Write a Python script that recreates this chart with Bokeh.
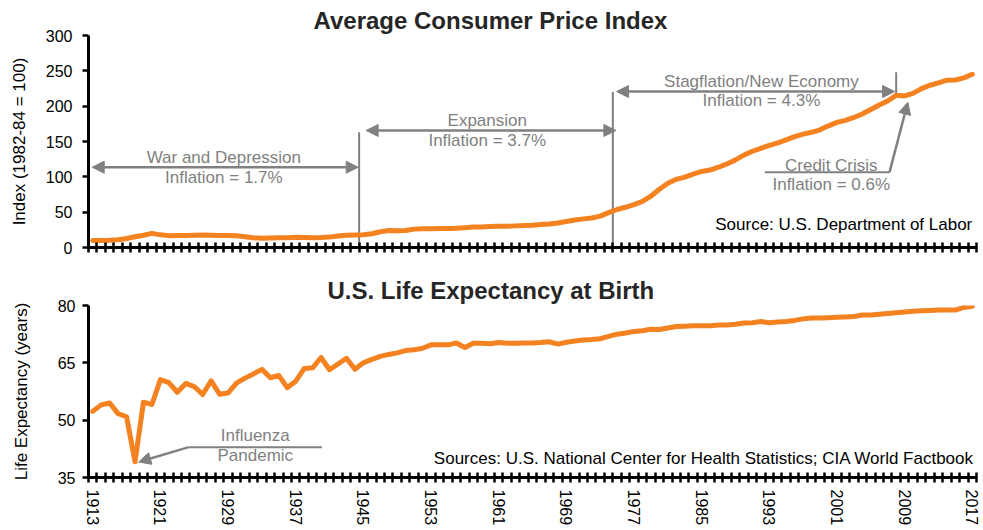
from bokeh.plotting import figure
from bokeh.layouts import column
from bokeh.models import Range1d, FixedTicker, Label, Arrow, NormalHead
from bokeh.embed import file_html
from bokeh.resources import INLINE

years = list(range(1913, 2018))
cpi = [9.9, 10.0, 10.1, 10.9, 12.8, 15.1, 17.3, 20.0, 17.9, 16.8,
       17.1, 17.1, 17.5, 17.7, 17.4, 17.1, 17.1, 16.7, 15.2, 13.7,
       13.0, 13.4, 13.7, 13.9, 14.4, 14.1, 13.9, 14.0, 14.7, 16.3,
       17.3, 17.6, 18.0, 19.5, 22.3, 24.1, 23.8, 24.1, 26.0, 26.5,
       26.7, 26.9, 26.8, 27.2, 28.1, 28.9, 29.1, 29.6, 29.9, 30.2,
       30.6, 31.0, 31.5, 32.4, 33.4, 34.8, 36.7, 38.8, 40.5, 41.8,
       44.4, 49.3, 53.8, 56.9, 60.6, 65.2, 72.6, 82.4, 90.9, 96.5,
       99.6, 103.9, 107.6, 109.6, 113.6, 118.3, 124.0, 130.7, 136.2, 140.3,
       144.5, 148.2, 152.4, 156.9, 160.5, 163.0, 166.6, 172.2, 177.1, 179.9,
       184.0, 188.9, 195.3, 201.6, 207.3, 215.3, 214.5, 218.1, 224.9, 229.6,
       233.0, 236.7, 237.0, 240.0, 245.1]
life = [52.3, 54.0, 54.5, 51.7, 50.9, 39.1, 54.7, 54.1, 60.6, 59.8,
        57.3, 59.6, 58.8, 56.7, 60.3, 56.8, 57.1, 59.7, 61.0, 62.1,
        63.3, 61.1, 61.7, 58.5, 60.2, 63.5, 63.7, 66.4, 63.2, 64.7,
        66.2, 63.3, 65.0, 65.9, 66.7, 67.2, 67.6, 68.2, 68.4, 68.8,
        69.7, 69.7, 69.7, 70.2, 69.0, 70.1, 70.1, 70.0, 70.3, 70.1,
        70.1, 70.2, 70.2, 70.3, 70.5, 69.9, 70.4, 70.7, 71.0, 71.1,
        71.3, 71.9, 72.5, 72.8, 73.2, 73.4, 73.8, 73.7, 74.1, 74.5,
        74.6, 74.7, 74.7, 74.7, 74.9, 74.9, 75.1, 75.4, 75.5, 75.8,
        75.5, 75.7, 75.8, 76.1, 76.5, 76.7, 76.7, 76.8, 76.9, 77.0,
        77.1, 77.5, 77.5, 77.7, 77.9, 78.1, 78.3, 78.5, 78.6, 78.7,
        78.8, 78.8, 78.8, 79.5, 79.8]

label_years = list(range(1913, 2018, 8))
year_bounds = [1912.5 + k for k in range(106)]
cpi_ticks = [0, 50, 100, 150, 200, 250, 300]
life_ticks = [35, 50, 65, 80]

# annotation anchors (data units)
era_lines_x = [1944.5, 1974.5, 2008.0]
era_lines_top = [163, 220, 248]
era_lines_bottom = [0, 0, 215]
era_arrows = [(1912.94, 1944.39, 113.6), (1945.33, 1974.86, 165.6), (1974.94, 2007.82, 220.7)]
era_names = [("War and Depression", "Inflation = 1.7%", 1928.5, 126.9, 99.5),
             ("Expansion", "Inflation = 3.7%", 1959.65, 179.7, 151.4),
             ("Stagflation/New Economy", "Inflation = 4.3%", 1992.07, 234.9, 208.0)]

FONT = "Liberation Sans"
ORANGE = "#F58220"
GRAY = "#808080"
ANN_TEXT = "#7F7F7F"

def base_fig(height, border_top, border_bottom, yr, title, title_offset):
    p = figure(width=983, height=height, output_backend="svg", toolbar_location=None,
               x_range=Range1d(1912.5, 2017.5), y_range=yr,
               min_border_left=88, min_border_right=7,
               min_border_top=border_top, min_border_bottom=border_bottom,
               title=title)
    p.title.align = "left"
    p.title.offset = title_offset
    p.title.text_font = FONT
    p.title.text_font_size = "24px"
    p.title.text_font_style = "bold"
    p.title.text_color = "#262626"
    p.title.standoff = 4
    p.outline_line_color = None
    p.xgrid.visible = False
    p.ygrid.visible = False
    p.background_fill_color = "white"
    p.border_fill_color = "white"
    for ax in (p.xaxis[0], p.yaxis[0]):
        ax.axis_line_color = "black"
        ax.axis_line_width = 3
        ax.major_label_text_font = FONT
        ax.major_label_text_color = "black"
        ax.axis_label_text_font = FONT
        ax.axis_label_text_font_style = "normal"
        ax.axis_label_text_color = "black"
    xa = p.xaxis[0]
    xa.major_tick_in = 0
    xa.major_tick_out = 0
    xa.minor_tick_in = 5
    xa.minor_tick_out = 5
    xa.minor_tick_line_width = 2.5
    xa.minor_tick_line_color = "black"
    ya = p.yaxis[0]
    ya.major_tick_in = 0
    ya.major_tick_out = 6
    ya.major_tick_line_width = 2.5
    ya.major_tick_line_color = "black"
    ya.minor_tick_line_color = None
    ya.major_label_text_font_size = "16px"
    ya.axis_label_text_font_size = "17px"
    return p

def txt(p, x, y, s, size="17px", color=ANN_TEXT, align="center"):
    p.add_layout(Label(x=x, y=y, text=s, text_font=FONT, text_font_size=size,
                       text_color=color, text_align=align, text_baseline="middle"))

# ---------------- top chart ----------------
p1 = base_fig(265, 35, 18, Range1d(0, 300), "Average Consumer Price Index", 225)
p1.xaxis[0].ticker = FixedTicker(ticks=[], minor_ticks=year_bounds)
p1.xaxis[0].major_label_text_font_size = "0px"
p1.yaxis[0].ticker = FixedTicker(ticks=cpi_ticks)
p1.yaxis[0].major_label_standoff = 10
p1.yaxis[0].axis_label = "Index (1982-84 = 100)"
p1.yaxis[0].axis_label_standoff = 14

p1.segment(x0=era_lines_x, y0=era_lines_bottom, x1=era_lines_x, y1=era_lines_top,
           line_color=GRAY, line_width=2)
for x0, x1, yv in era_arrows:
    p1.add_layout(Arrow(x_start=x0, y_start=yv, x_end=x1, y_end=yv,
                        line_color=GRAY, line_width=2.5,
                        start=NormalHead(size=12, fill_color=GRAY, line_color=GRAY),
                        end=NormalHead(size=12, fill_color=GRAY, line_color=GRAY)))
for name, infl, xc, y1, y2 in era_names:
    txt(p1, xc, y1, name)
    txt(p1, xc, y2, infl)

# credit crisis callout
p1.segment(x0=[1992.46], y0=[106.6], x1=[2007.22], y1=[106.6], line_color=GRAY, line_width=2)
p1.add_layout(Arrow(x_start=2007.22, y_start=106.6, x_end=2009.38, y_end=205.5,
                    line_color=GRAY, line_width=2.5,
                    end=NormalHead(size=12, fill_color=GRAY, line_color=GRAY)))
txt(p1, 2000.33, 116, "Credit Crisis")
txt(p1, 2000.33, 89, "Inflation = 0.6%")

p1.line(years, cpi, line_color=ORANGE, line_width=5, line_join="round", line_cap="round")
txt(p1, 2017.0, 32.1, "Source: U.S. Department of Labor", color="black", align="right")

# ---------------- bottom chart ----------------
p2 = base_fig(263, 40, 45, Range1d(35, 80), "U.S. Life Expectancy at Birth", 239)
p2.xaxis[0].ticker = FixedTicker(ticks=label_years, minor_ticks=year_bounds)
p2.xaxis[0].major_label_orientation = "vertical"
p2.xaxis[0].major_label_text_font_size = "16px"
p2.xaxis[0].major_label_standoff = 7
p2.yaxis[0].ticker = FixedTicker(ticks=life_ticks)
p2.yaxis[0].major_label_standoff = 7
p2.yaxis[0].axis_label = "Life Expectancy (years)"
p2.yaxis[0].axis_label_standoff = 24

p2.segment(x0=[1924.35], y0=[42.94], x1=[1940.1], y1=[42.94], line_color=GRAY, line_width=2)
p2.add_layout(Arrow(x_start=1924.35, y_start=42.94, x_end=1918.44, y_end=39.06,
                    line_color=GRAY, line_width=2.5,
                    end=NormalHead(size=12, fill_color=GRAY, line_color=GRAY)))
txt(p2, 1932.22, 45.94, "Influenza")
txt(p2, 1932.22, 40.77, "Pandemic")

p2.line(years, life, line_color=ORANGE, line_width=5, line_join="round", line_cap="round")
txt(p2, 2017.2, 39.9, "Sources: U.S. National Center for Health Statistics; CIA World Factbook",
    color="black", align="right")

layout = column(p1, p2, spacing=0)
open("out.html", "w").write(file_html(layout, INLINE))
